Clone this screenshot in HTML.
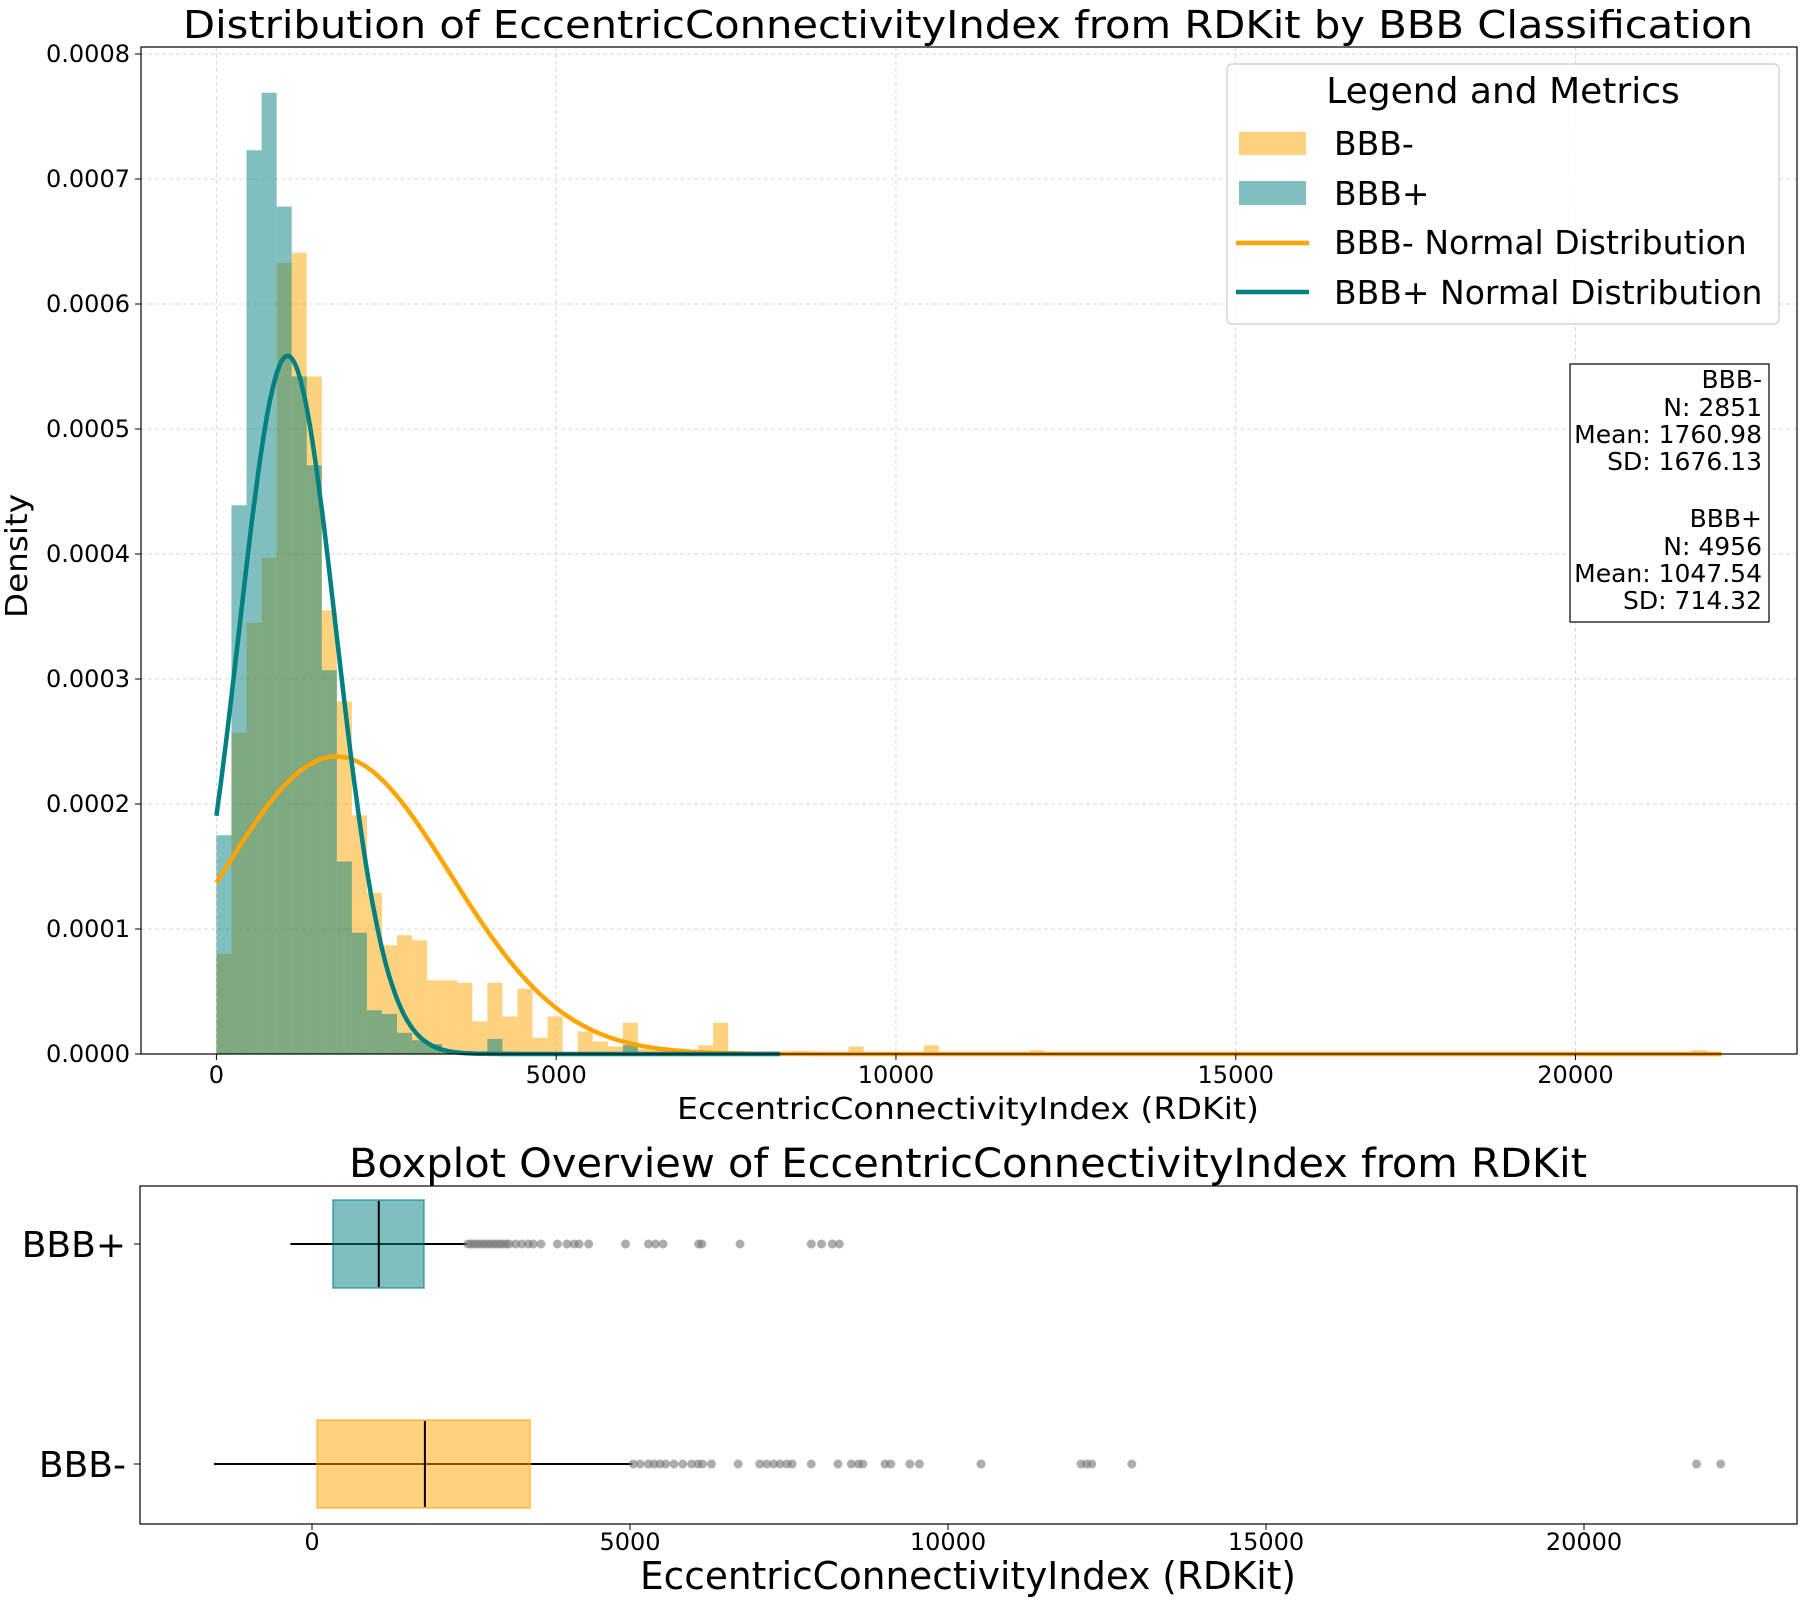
<!DOCTYPE html>
<html><head><meta charset="utf-8"><style>
html,body{margin:0;padding:0;background:#fff;}
svg{display:block;font-family:"DejaVu Sans","Liberation Sans",sans-serif;}
</style></head><body>
<svg id="fig" width="1800" height="1600" viewBox="0 0 1800 1600" xmlns="http://www.w3.org/2000/svg">
<rect width="1800" height="1600" fill="#fff"/>
<g id="topPanel"></g>
<g id="botPanel"></g>
</svg>
<script>
// ---- Data ----
const binWidth = 221.5;
const bbbMinusDensity = [0.80,2.57,3.45,3.97,6.33,6.41,5.42,3.55,2.82,1.91,1.29,0.87,0.95,0.91,0.59,0.59,0.57,0.26,0.57,0.30,0.52,0.13,0.30,0.01,0.18,0.10,0.06,0.25,0.04,0.04,0.03,0.03,0.07,0.25,0.02,0.02,0.01,0.01,0.02,0.02,0.01,0.01,0.06,0.01,0.01,0.01,0.01,0.07,0.01,0.01,0.01,0.01,0.01,0.01,0.03,0.01,0.01,0.01,0.01,0.01,0.01,0.01,0.01,0.01,0.01,0.01,0.01,0.01,0.01,0.01,0.01,0.01,0.01,0.01,0.01,0.01,0.01,0.01,0.01,0.01,0.01,0.01,0.01,0.01,0.01,0.01,0.01,0.01,0.01,0.01,0.01,0.01,0.01,0.01,0.01,0.01,0.01,0.01,0.03,0.01];
const bbbPlusDensity = [1.75,4.39,7.23,7.69,6.78,5.42,4.71,3.07,1.54,0.97,0.35,0.32,0.17,0.11,0.08,0.03,0.02,0.02,0.12,0.02,0.01,0.01,0.01,0.01,0.01,0.01,0.01,0.07,0.01,0.01,0.01,0.01,0.01,0.01,0.01,0.01,0.01,0.01];
const statsMinus = {n:2851, mean:1760.98, sd:1676.13, max:22150};
const statsPlus = {n:4956, mean:1047.54, sd:714.32, max:8290};
const yTicks = [0,0.0001,0.0002,0.0003,0.0004,0.0005,0.0006,0.0007,0.0008];
const xTicks = [0,5000,10000,15000,20000];
const boxPlus = {q1:330, med:1050, q3:1760, lo:-340, hi:2440};
const boxMinus = {q1:80, med:1775, q3:3430, lo:-1540, hi:5040};
const outPlus = [2450,2500,2550,2600,2650,2700,2750,2800,2850,2900,2950,3000,3050,3100,3200,3300,3400,3480,3600,3860,4010,4120,4200,4350,4930,5290,5400,5520,6080,6130,6730,7850,8010,8180,8290];
const outMinus = [5050,5160,5290,5380,5470,5560,5690,5830,5970,6070,6140,6280,6700,7040,7150,7260,7360,7470,7550,7850,8270,8480,8590,8660,9010,9100,9400,9550,10520,12090,12180,12260,12890,21770,22150];

const NS="http://www.w3.org/2000/svg";
function mk(parent,tag,attrs,text){const e=document.createElementNS(NS,tag);for(const k in attrs)e.setAttribute(k,attrs[k]);if(text!==undefined)e.textContent=text;parent.appendChild(e);return e;}
const topG=document.getElementById('topPanel'), botG=document.getElementById('botPanel');

// ---- Top axes ----
const L=141,R=1797,T=47,B=1054;
const xMin=-1110,xMax=23260;
const sx=v=>L+(v-xMin)/(xMax-xMin)*(R-L);
const sy=d=>B-d/0.0008*(B-54);

xTicks.forEach(t=>{const g=mk(topG,'line',{x1:sx(t),x2:sx(t),y1:T,y2:B,stroke:'#d8d8d8','stroke-width':1,'stroke-dasharray':'4,3'});

});
yTicks.forEach(t=>{const g=mk(topG,'line',{x1:L,x2:R,y1:sy(t),y2:sy(t),stroke:'#d8d8d8','stroke-width':1,'stroke-dasharray':'4,3'});

});

bbbMinusDensity.forEach((d,i)=>{const v=d*1e-4;const r=mk(topG,'rect',{x:sx(i*binWidth),y:sy(v),width:sx((i+1)*binWidth)-sx(i*binWidth),height:B-sy(v),fill:'#FFA500','fill-opacity':0.5});

});
bbbPlusDensity.forEach((d,i)=>{const v=d*1e-4;const r=mk(topG,'rect',{x:sx(i*binWidth),y:sy(v),width:sx((i+1)*binWidth)-sx(i*binWidth),height:B-sy(v),fill:'#008080','fill-opacity':0.5});

});

function curve(st,color,name){let p='';for(let i=0;i<=400;i++){const x=st.max*i/400;const y=Math.exp(-0.5*((x-st.mean)/st.sd)**2)/(st.sd*Math.sqrt(2*Math.PI));p+=(i?'L':'M')+sx(x).toFixed(1)+','+sy(y).toFixed(1);}
const e=mk(topG,'path',{d:p,fill:'none',stroke:color,'stroke-width':4.5,'stroke-linejoin':'round'});

}
curve(statsMinus,'#FFA500','bbb-minus-normal-curve');
curve(statsPlus,'#008080','bbb-plus-normal-curve');

mk(topG,'rect',{x:L,y:T,width:R-L,height:B-T,fill:'none',stroke:'#000','stroke-width':1.2});
xTicks.forEach(t=>{mk(topG,'line',{x1:sx(t),x2:sx(t),y1:B,y2:B+6,stroke:'#000'});
const tx=mk(topG,'text',{x:sx(t),y:1083,'font-size':24,'text-anchor':'middle'},String(t));

});
yTicks.forEach(t=>{mk(topG,'line',{x1:L-6,x2:L,y1:sy(t),y2:sy(t),stroke:'#000'});
const tx=mk(topG,'text',{x:130,y:sy(t)+8,'font-size':24,'text-anchor':'end'},t.toFixed(4));

});

topG.insertAdjacentHTML('beforeend',`
<text x="968" y="38" font-size="38" text-anchor="middle" textLength="1570" lengthAdjust="spacingAndGlyphs">Distribution of EccentricConnectivityIndex from RDKit by BBB Classification</text>
<text x="968" y="1119" font-size="30" text-anchor="middle" textLength="582" lengthAdjust="spacingAndGlyphs">EccentricConnectivityIndex (RDKit)</text>
<text transform="translate(27,556) rotate(-90)" font-size="30" text-anchor="middle" textLength="124" lengthAdjust="spacingAndGlyphs">Density</text>
<g>
<rect x="1227" y="64" width="552" height="260" rx="5" fill="#fff" fill-opacity="0.85" stroke="#ccc" stroke-width="1.2"/>
<text x="1503" y="103" font-size="36" text-anchor="middle">Legend and Metrics</text>
<rect x="1239" y="132" width="67" height="23" fill="#FFA500" fill-opacity="0.5"/>
<text x="1334" y="155" font-size="33">BBB-</text>
<rect x="1239" y="181" width="67" height="24" fill="#008080" fill-opacity="0.5"/>
<text x="1334" y="205" font-size="33">BBB+</text>
<line x1="1236" x2="1309" y1="243" y2="243" stroke="#FFA500" stroke-width="4.5"/>
<text x="1334" y="254" font-size="33">BBB- Normal Distribution</text>
<line x1="1236" x2="1309" y1="292" y2="292" stroke="#008080" stroke-width="4.5"/>
<text x="1334" y="304" font-size="33">BBB+ Normal Distribution</text>
</g>
<g font-size="25" text-anchor="end">
<rect x="1570" y="364" width="199" height="258" fill="#fff" stroke="#000" stroke-width="1.2"/>
<text x="1762" y="388">BBB-</text>
<text x="1762" y="416">N: 2851</text>
<text x="1762" y="443">Mean: 1760.98</text>
<text x="1762" y="470">SD: 1676.13</text>
<text x="1762" y="527">BBB+</text>
<text x="1762" y="555">N: 4956</text>
<text x="1762" y="582">Mean: 1047.54</text>
<text x="1762" y="609">SD: 714.32</text>
</g>`);

// ---- Bottom boxplot ----
const bL=140,bR=1797,bT=1186,bB=1524;
const bx0=312,perK=63.6;
const bsx=v=>bx0+v/1000*perK;
const rows=[{b:boxPlus,o:outPlus,y:1244,fill:'#008080',name:'bbb-plus'},{b:boxMinus,o:outMinus,y:1464,fill:'#FFA500',name:'bbb-minus'}];
rows.forEach(r=>{
const ln=mk(botG,'line',{x1:bsx(r.b.lo),x2:bsx(r.b.hi),y1:r.y,y2:r.y,stroke:'#000','stroke-width':2});


const bx=mk(botG,'rect',{x:bsx(r.b.q1),y:r.y-44,width:bsx(r.b.q3)-bsx(r.b.q1),height:88,fill:r.fill,'fill-opacity':0.5,stroke:r.fill,'stroke-opacity':0.5,'stroke-width':2});


const md=mk(botG,'line',{x1:bsx(r.b.med),x2:bsx(r.b.med),y1:r.y-43,y2:r.y+43,stroke:'#000','stroke-width':2});


r.o.forEach(v=>{const c=mk(botG,'circle',{cx:bsx(v),cy:r.y,r:4.5,fill:'#777','fill-opacity':0.6});

});
});
mk(botG,'rect',{x:bL,y:bT,width:bR-bL,height:bB-bT,fill:'none',stroke:'#000','stroke-width':1.2});
xTicks.forEach(t=>{mk(botG,'line',{x1:bsx(t),x2:bsx(t),y1:bB,y2:bB+6,stroke:'#000'});
const tx=mk(botG,'text',{x:bsx(t),y:1550,'font-size':24,'text-anchor':'middle'},String(t));

});
[['BBB+',1244],['BBB-',1464]].forEach(([s,y])=>{mk(botG,'line',{x1:bL-6,x2:bL,y1:y,y2:y,stroke:'#000'});
const tx=mk(botG,'text',{x:126,y:y+13,'font-size':36,'text-anchor':'end'},s);

});
botG.insertAdjacentHTML('beforeend',`
<text x="968" y="1177" font-size="40" text-anchor="middle" textLength="1238" lengthAdjust="spacingAndGlyphs">Boxplot Overview of EccentricConnectivityIndex from RDKit</text>
<text x="968" y="1589" font-size="38" text-anchor="middle" textLength="656" lengthAdjust="spacingAndGlyphs">EccentricConnectivityIndex (RDKit)</text>`);
</script>
</body></html>
